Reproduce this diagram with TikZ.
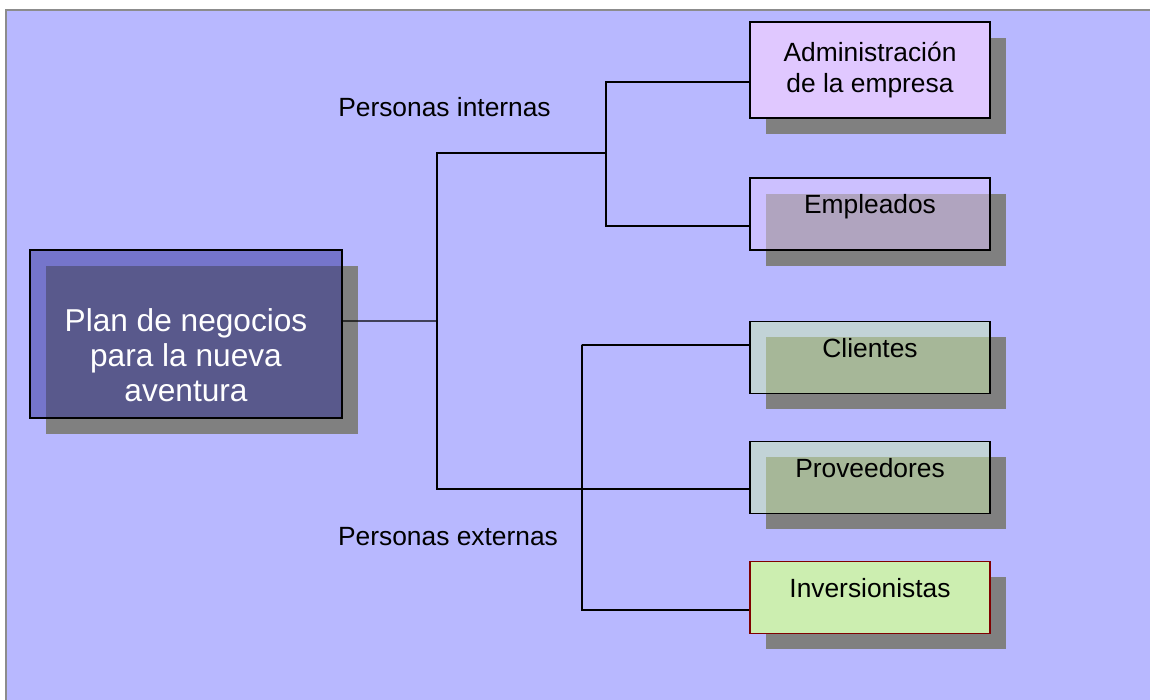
\documentclass[tikz,border=0pt]{standalone}
\usepackage{fontspec}
\setmainfont{Liberation Sans}
\usetikzlibrary{positioning,shadows}
\definecolor{backblue}{RGB}{184,184,255}
\definecolor{framegray}{RGB}{140,140,140}
\definecolor{planblue}{RGB}{51,51,153}
\definecolor{shadegray}{RGB}{128,128,128}
\definecolor{lilac}{RGB}{224,200,255}
\definecolor{palegreen}{RGB}{204,238,176}
\definecolor{darkred}{RGB}{128,0,0}
\tikzset{
  backdrop/.style={draw=framegray, fill=backblue, line width=1.2pt},
  boxshadow/.style={drop shadow={shadow xshift=0.32cm, shadow yshift=-0.32cm, opacity=1, fill=shadegray}},
  mainbox/.style={rectangle, draw=black, line width=1.1pt, fill=planblue, fill opacity=0.5, draw opacity=1,
    minimum width=6.24cm, minimum height=3.36cm, inner sep=0pt, boxshadow},
  maintext/.style={text=white, align=center, font=\fontsize{18}{20}\selectfont},
  person/.style={rectangle, draw=black, line width=1.1pt, minimum width=4.8cm, minimum height=1.44cm,
    inner sep=0pt, align=center, font=\fontsize{15}{18}\selectfont, boxshadow},
  oneline/.style={text height=0.72cm, text depth=0.72cm},
  seethru/.style={fill opacity=0.5, text opacity=1, draw opacity=1},
  side/.style={font=\fontsize{15}{18}\selectfont},
  link/.style={draw=black, line width=0.8pt},
}
\begin{document}
\begin{tikzpicture}
  \clip (0,0) rectangle (23,14);
  % slide background
  \draw[backdrop] (0.12,13.8) rectangle (23.6,-0.6);

  % main box
  \node [mainbox] (plan) at (3.72,7.32) {};
  \node [maintext] (plantext) at ([yshift=-0.42cm]plan.center) {Plan de negocios\\para la nueva\\aventura};

  % the people
  \node [person, fill=lilac, minimum height=1.92cm] (adm) at (17.4,12.6) {Administración\\de la empresa};
  \node [person, oneline, seethru, fill=lilac]       (emp) at (17.4,9.72) {Empleados};
  \node [person, oneline, seethru, fill=palegreen]   (cli) at (17.4,6.85) {Clientes};
  \node [person, oneline, seethru, fill=palegreen]   (prov) at (17.4,4.45) {Proveedores};
  \node [person, oneline, fill=palegreen, draw=darkred] (inv) at (17.4,2.05) {Inversionistas};

  \node [side] (inner) at (8.89,11.86) {Personas internas};
  \node [side] (outer) at (8.96,3.26) {Personas externas};

  % connectors
  \coordinate (hub) at (8.74,7.58);
  \coordinate (upfork) at (12.12,10.94);
  \coordinate (lowfork) at (11.64,7.10);
  \draw [link] ([yshift=0.26cm]plan.east) -- (hub);
  \draw [link] (hub) |- (upfork);
  \draw [link] (hub) |- ([yshift=-0.23cm]prov.west);
  \draw [link] ([yshift=-0.24cm]adm.west) -| (upfork) |- ([yshift=-0.24cm]emp.west);
  \draw [link] ([yshift=0.25cm]cli.west) -| (lowfork) |- ([yshift=-0.25cm]inv.west);
\end{tikzpicture}
\end{document}
